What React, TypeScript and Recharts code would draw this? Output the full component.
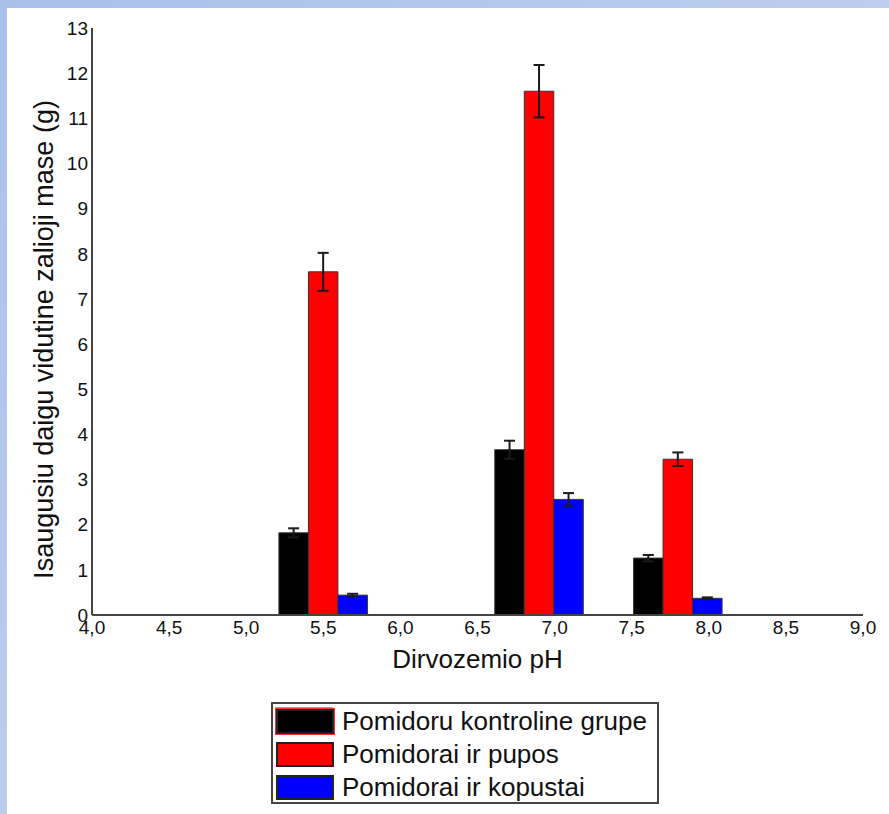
import { BarChart, Bar, XAxis, YAxis, ErrorBar } from "recharts";

// dirvožemio pH grupės
const phValues = [5.5, 6.9, 7.8];

// vidutinė žalioji masė (g) ir paklaidos
const kontroline = [1.82, 3.66, 1.26];
const kontrolineErr = [0.1, 0.2, 0.07];
const pupos = [7.6, 11.6, 3.45];
const puposErr = [0.42, 0.58, 0.15];
const kopustai = [0.44, 2.56, 0.37];
const kopustaiErr = [0.03, 0.14, 0.02];

const xTicks = [4, 4.5, 5, 5.5, 6, 6.5, 7, 7.5, 8, 8.5, 9];
const yTicks = [0, 1, 2, 3, 4, 5, 6, 7, 8, 9, 10, 11, 12, 13];

const seriesNames = [
    "Pomidoru kontroline grupe",
    "Pomidorai ir pupos",
    "Pomidorai ir kopustai",
];
const seriesColors = ["#000000", "#ff0000", "#0000ff"];

const xTitle = "Dirvozemio pH";
const yTitle = "Isaugusiu daigu vidutine zalioji mase (g)";

const data = phValues.map((ph, i) => ({
    ph,
    kontroline: kontroline[i],
    kontrolineErr: kontrolineErr[i],
    pupos: pupos[i],
    puposErr: puposErr[i],
    kopustai: kopustai[i],
    kopustaiErr: kopustaiErr[i],
}));

const font = "'Liberation Sans', Arial, sans-serif";
const frame = "#444";
const textColor = "#111";

const fmt = (v: number) => v.toFixed(1).replace(".", ",");

const YTitle = (props: any) => {
    const vb = props.viewBox;
    const cx = 53;
    const cy = vb.y + vb.height / 2 + 18;
    return (
        <text
            x={cx}
            y={cy}
            transform={`rotate(-90 ${cx} ${cy})`}
            textAnchor="middle"
            fontSize={27}
            fontFamily={font}
            fill={textColor}
        >
            {yTitle}
        </text>
    );
};

const XTitle = (props: any) => {
    const vb = props.viewBox;
    return (
        <text
            x={vb.x + vb.width / 2}
            y={668}
            textAnchor="middle"
            fontSize={26}
            fontFamily={font}
            fill={textColor}
        >
            {xTitle}
        </text>
    );
};

export default function App() {
    return (
        <div
            style={{
                position: "absolute",
                left: 0,
                top: 0,
                width: 889,
                height: 814,
                background: "linear-gradient(135deg, #a9c0ea 0%, #cddbf2 100%)",
                overflow: "hidden",
            }}
        >
            <div
                style={{
                    position: "absolute",
                    left: 7,
                    top: 8,
                    right: 0,
                    bottom: 0,
                    background: "#fff",
                }}
            />
            <div style={{ position: "absolute", left: 0, top: 0 }}>
                <BarChart
                    width={889}
                    height={700}
                    data={data}
                    margin={{ top: 28, right: 26, left: 0, bottom: 0 }}
                    barGap={0}
                    barSize={29.5}
                >
                    <XAxis
                        dataKey="ph"
                        type="number"
                        domain={[4, 9]}
                        ticks={xTicks}
                        tickFormatter={fmt}
                        height={85}
                        tickSize={0}
                        tickMargin={6}
                        tick={{ fontSize: 19, fill: textColor, fontFamily: font }}
                        axisLine={{ stroke: frame, strokeWidth: 2 }}
                        interval={0}
                        label={<XTitle />}
                    />
                    <XAxis
                        xAxisId="top"
                        orientation="top"
                        height={0}
                        tick={false}
                        tickLine={false}
                        axisLine={{ stroke: frame, strokeWidth: 2 }}
                    />
                    <YAxis
                        domain={[0, 13]}
                        ticks={yTicks}
                        width={92}
                        tickSize={0}
                        tickMargin={4}
                        tick={{ fontSize: 19, fill: textColor, fontFamily: font }}
                        axisLine={{ stroke: frame, strokeWidth: 2 }}
                        interval={0}
                        label={<YTitle />}
                    />
                    <YAxis
                        yAxisId="right"
                        orientation="right"
                        width={0}
                        tick={false}
                        tickLine={false}
                        axisLine={{ stroke: frame, strokeWidth: 2 }}
                    />
                    <Bar
                        dataKey="kontroline"
                        fill={seriesColors[0]}
                        stroke="#333"
                        strokeWidth={1}
                        isAnimationActive={false}
                    >
                        <ErrorBar dataKey="kontrolineErr" direction="y" width={5.5} stroke="#1a1a1a" strokeWidth={2} />
                    </Bar>
                    <Bar
                        dataKey="pupos"
                        fill={seriesColors[1]}
                        stroke="#333"
                        strokeWidth={1}
                        isAnimationActive={false}
                    >
                        <ErrorBar dataKey="puposErr" direction="y" width={5.5} stroke="#1a1a1a" strokeWidth={2} />
                    </Bar>
                    <Bar
                        dataKey="kopustai"
                        fill={seriesColors[2]}
                        stroke="#333"
                        strokeWidth={1}
                        isAnimationActive={false}
                    >
                        <ErrorBar dataKey="kopustaiErr" direction="y" width={5.5} stroke="#1a1a1a" strokeWidth={2} />
                    </Bar>
                </BarChart>
            </div>
            <div
                style={{
                    position: "absolute",
                    left: 271,
                    top: 702,
                    width: 384,
                    height: 98,
                    border: `2px solid ${frame}`,
                    background: "#fff",
                    fontFamily: font,
                    fontSize: 26,
                    color: textColor,
                }}
            >
                {seriesNames.map((name, i) => (
                    <div
                        key={name}
                        style={{
                            position: "absolute",
                            left: 3,
                            top: 4 + i * 33,
                            height: 27,
                            display: "flex",
                            alignItems: "center",
                            whiteSpace: "nowrap",
                        }}
                    >
                        <div
                            style={{
                                width: 58,
                                height: 25,
                                boxSizing: "border-box",
                                background: seriesColors[i],
                                border: "2px solid #222",
                                outline: i === 0 ? "1px solid #ff3030" : "none",
                                boxShadow: i === 0 ? "-1px -2px 0 0 #00e5ee" : "none",
                            }}
                        />
                        <span style={{ marginLeft: 8, lineHeight: "27px" }}>{name}</span>
                    </div>
                ))}
            </div>
        </div>
    );
}
